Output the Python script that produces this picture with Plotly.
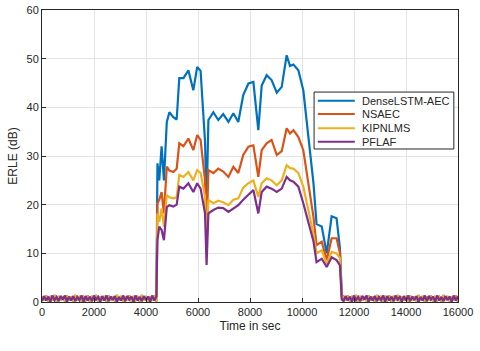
import plotly.graph_objects as go

# active part of the echo test (sec)
t_active = [4440, 4510, 4600, 4690, 4800, 4900, 5050, 5180, 5280, 5440, 5630, 5820,
            5970, 6100, 6270, 6330, 6400, 6590, 6780, 6970, 7170, 7360, 7550, 7740,
            7940, 8130, 8320, 8450, 8640, 8830, 9030, 9220, 9410, 9540, 9670, 9860,
            10050, 10240, 10440, 10560, 10760, 10950, 11140, 11330, 11460, 11530]

dense_lstm = [28.5, 25, 32, 25, 37, 39, 38, 37.5, 46, 46, 47.6, 43.5,
              48.3, 47.5, 33, 20, 37.4, 39, 37.4, 38.6, 37, 38.8, 37, 42.5,
              44.9, 45.2, 35.3, 44.5, 46.6, 45.6, 43, 44.2, 50.7, 48.5, 48.8, 47.6,
              43.5, 34.6, 24.5, 16, 15.5, 10, 17.6, 17.2, 11, 1.5]
nsaec = [20.3, 21, 22.6, 18.2, 27.8, 27, 26.7, 27.4, 32.6, 32, 33.6, 31.2,
         34.3, 33.3, 25, 14, 27.1, 26.5, 27.4, 26.8, 25.7, 27.8, 26.5, 30.2,
         31.9, 32.2, 25.7, 31.2, 32.6, 33.3, 30.2, 31, 35.7, 34.6, 35.3, 33.9,
         31.2, 24.4, 17.5, 11.7, 12.4, 8.6, 13.1, 13.1, 10, 1]
kipnlms = [18.2, 16.5, 19.2, 15.5, 22, 21.5, 21.3, 21.5, 26.1, 25.7, 26.7, 25,
           27.1, 26.5, 21.6, 11, 21, 20.3, 20.8, 20.5, 19.9, 21, 21.3, 23.5,
           24.4, 25, 21.6, 24.4, 25.4, 25, 24, 25, 28.1, 27.5, 27.4, 26.5,
           23.7, 19, 14, 10, 10.6, 7.9, 10.3, 10, 9, 1]
pflaf = [12.7, 15.5, 14.8, 12.7, 19.5, 19.9, 19.6, 20, 23.7, 23.3, 24.4, 22.6,
         24.4, 23.3, 18.2, 7.6, 18.2, 18.9, 19.4, 19.3, 18.5, 19.2, 19.9, 21,
         22, 23, 18.2, 22.6, 23.7, 23.3, 22.6, 23.3, 25.7, 25, 24.7, 23.7,
         20.3, 16.5, 12.5, 8.2, 8.9, 7.2, 9.2, 8.6, 7.5, 0.5]

# quiet (no far-end speech) sections, sampled every 80 sec
t_quiet_1 = list(range(0, 4440, 80))
t_quiet_2 = list(range(11600, 16001, 80))
quiet_a = [0.2, 1.2, 0.3, 1.1, 0.1, 1.3, 0.4, 1.0, 0.2, 1.2, 0.5, 1.3, 0.1, 1.1,
           0.3, 1.2, 0.2, 1.0, 0.4, 1.3, 0.1, 1.2, 0.3, 1.1, 0.2, 1.3, 0.5, 1.0,
           0.1, 1.2, 0.3, 1.3, 0.2, 1.1, 0.4, 1.2, 0.1, 1.0, 0.3, 1.3, 0.2, 1.2,
           0.5, 1.1, 0.1, 1.3, 0.3, 1.0, 0.2, 1.2, 0.4, 1.1, 0.1, 1.3, 0.3, 1.2]
quiet_b = [1.1, 0.3, 1.3, 0.2, 1.2, 0.4, 1.4, 0.1, 1.2, 0.3, 1.0, 0.2, 1.3, 0.4,
           1.1, 0.1, 1.4, 0.3, 1.2, 0.2, 1.0, 0.4, 1.3, 0.1, 1.2, 0.3, 1.4, 0.2,
           1.1, 0.4, 1.2, 0.1, 1.3, 0.3, 1.0, 0.2, 1.4, 0.4, 1.2, 0.1, 1.1, 0.3,
           1.3, 0.2, 1.2, 0.4, 1.0, 0.1, 1.4, 0.3, 1.2, 0.2, 1.1, 0.4, 1.3, 0.1]

series = [
    ("DenseLSTM-AEC", dense_lstm, quiet_b, "#0072BD"),
    ("NSAEC", nsaec, quiet_a, "#D95319"),
    ("KIPNLMS", kipnlms, quiet_b, "#EDB120"),
    ("PFLAF", pflaf, quiet_a, "#7E2F8E"),
]

fig = go.Figure()
for name, vals, quiet, color in series:
    x = t_quiet_1 + t_active + t_quiet_2
    y = quiet[:len(t_quiet_1)] + vals + quiet[:len(t_quiet_2)]
    fig.add_trace(go.Scatter(x=x, y=y, mode="lines", name=name, showlegend=False,
                             line=dict(color=color, width=2.2)))

# MATLAB-style legend box drawn by hand (plotly's rows are too tall)
fig.add_shape(type="rect", xref="paper", yref="paper", x0=0.654, x1=0.99, y0=0.524, y1=0.719,
              fillcolor="white", line=dict(color="#262626", width=1), layer="above")
leg_y = [0.689, 0.644, 0.595, 0.549]
for (name, _, _, color), yy in zip(series, leg_y):
    fig.add_shape(type="line", xref="paper", yref="paper", x0=0.663, x1=0.752, y0=yy, y1=yy,
                  line=dict(color=color, width=2), layer="above")
    fig.add_annotation(xref="paper", yref="paper", x=0.764, y=yy, text=name, showarrow=False,
                       xanchor="left", yanchor="middle", font=dict(size=11, color="#262626"))

axis_style = dict(showline=True, linecolor="#262626", linewidth=1, mirror=True,
                  showgrid=True, gridcolor="#e3e3e3", zeroline=False, automargin=False,
                  ticks="inside", ticklen=4, tickcolor="#262626",
                  tickfont=dict(size=11, color="#262626"))

fig.update_xaxes(range=[0, 16000], dtick=2000, tickformat="d",
                 title=dict(text="Time in sec", font=dict(size=12), standoff=4), **axis_style)
fig.update_yaxes(range=[0, 60], dtick=10,
                 title=dict(text="ERLE (dB)", font=dict(size=12), standoff=6), **axis_style)

fig.update_layout(
    width=480, height=351,
    margin=dict(l=42, r=22, t=10, b=49),
    paper_bgcolor="white", plot_bgcolor="white",
    font=dict(family="Liberation Sans, Arial, sans-serif", color="#262626"),
    showlegend=False,
)

# drop the browser's default page margin so the figure sits at (0, 0)
fig.write_html("out.html", config={"displayModeBar": False},
               post_script="document.body.style.margin='0px';")
